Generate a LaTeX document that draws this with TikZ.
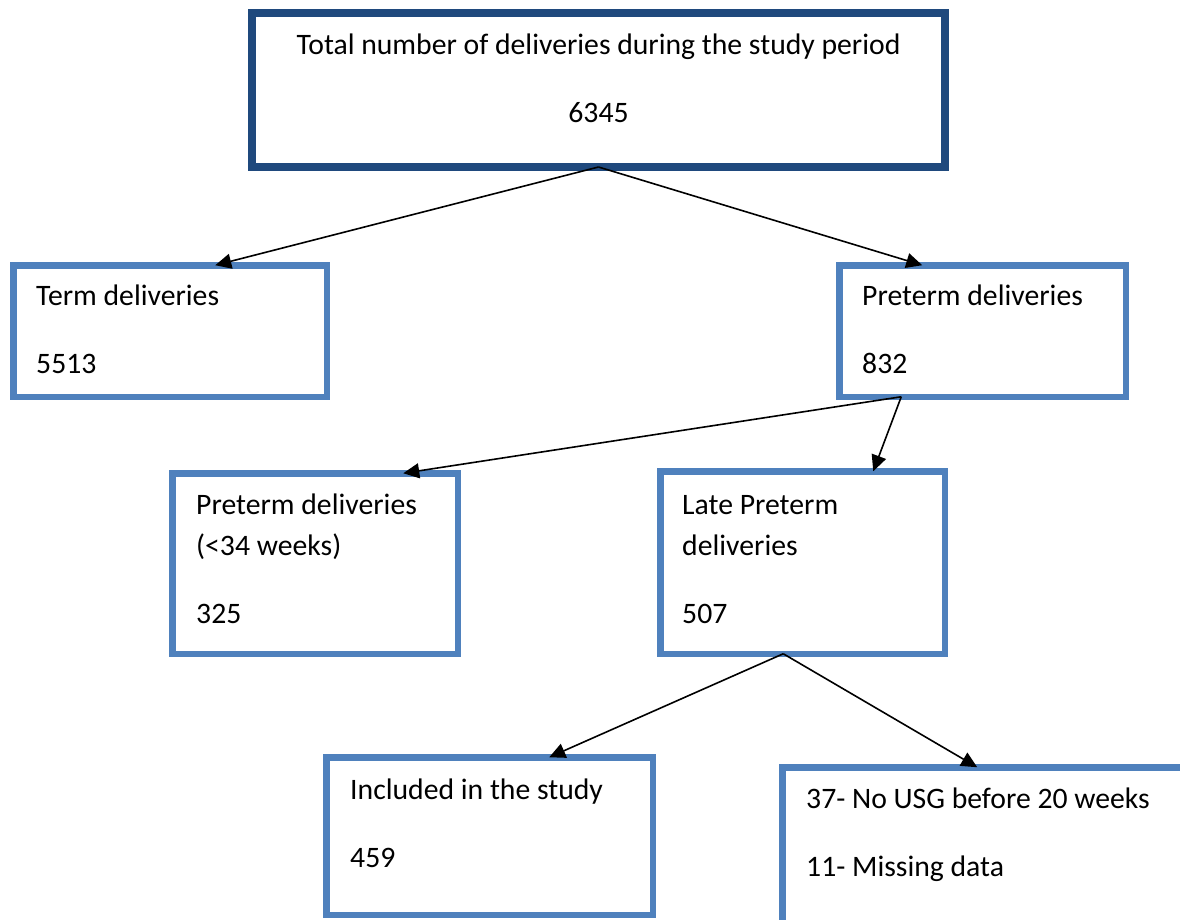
\documentclass[tikz,border=0pt]{standalone}
\usepackage{fontspec}
\setmainfont{Carlito}
\usepackage{tikz}
\usetikzlibrary{positioning, arrows.meta}

\definecolor{boxblue}{HTML}{4F81BD}
\definecolor{topblue}{HTML}{1F497D}

\tikzset{
  box/.style={draw=boxblue, line width=6.5pt, outer sep=0pt, inner sep=0pt},
  topbox/.style={draw=topblue, line width=8pt, outer sep=0pt, inner sep=0pt},
  txt/.style={inner sep=0pt, font=\fontsize{29.7}{41}\selectfont},
  arr/.style={-{Triangle[length=16pt,width=15pt]}, line width=1.6pt}
}

\begin{document}
\begin{tikzpicture}[x=1pt, y=-1pt]
    \useasboundingbox (0,0) rectangle (1180,920);

    % Draw boxes
    \node[topbox, minimum width=693pt, minimum height=154pt] (total) at (598.5,90) {};
    \node[box, minimum width=313.5pt, minimum height=131.5pt] (term) at (170,331) {};
    \node[box, minimum width=286.5pt, minimum height=131.5pt] (preterm) at (982.5,331) {};
    \node[box, minimum width=285.5pt, minimum height=180.5pt] (early) at (315,563.5) {};
    \node[box, minimum width=284.5pt, minimum height=182.5pt] (late) at (802.5,562.5) {};
    \node[box, minimum width=326.5pt, minimum height=157.5pt] (incl) at (489.5,836) {};
    \node[box, minimum width=560pt, minimum height=200pt, anchor=north west] (excl) at (782.25,767.25) {};

    % Title text
    \node[txt, anchor=base] (totalA) at (598.5,55) {Total number of deliveries during the study period};
    \node[txt, anchor=base] (totalB) at (598.5,123) {6345};

    % Text in the other boxes
    \foreach \n/\x/\y/\t in {termA/36/305/Term deliveries, termB/36/373/5513,
      pretermA/862/305/Preterm deliveries, pretermB/862/373/832,
      earlyA/196/514/Preterm deliveries, earlyB/196/555/(<34 weeks), earlyC/196/623/325,
      lateA/682/514/Late Preterm, lateB/682/555/deliveries, lateC/682/623/507,
      inclA/350/799/Included in the study, inclB/350/867/459,
      exclA/806/808/37- No USG before 20 weeks, exclB/806/876/11- Missing data} {
      \node[txt, anchor=base west] (\n) at (\x,\y) {\t};
    }

    % Arrows
    \draw[arr] (total.south) -- ([xshift=202pt]term.north west);
    \draw[arr] (total.south) -- ([xshift=83pt]preterm.north west);
    \draw[arr] ([xshift=62pt]preterm.south west) -- ([xshift=231pt]early.north west);
    \draw[arr] ([xshift=62pt]preterm.south west) -- ([xshift=213pt]late.north west);
    \draw[arr] ([xshift=123pt]late.south west) -- ([xshift=223pt]incl.north west);
    \draw[arr] ([xshift=123pt]late.south west) -- ([xshift=195pt]excl.north west);
\end{tikzpicture}
\end{document}
